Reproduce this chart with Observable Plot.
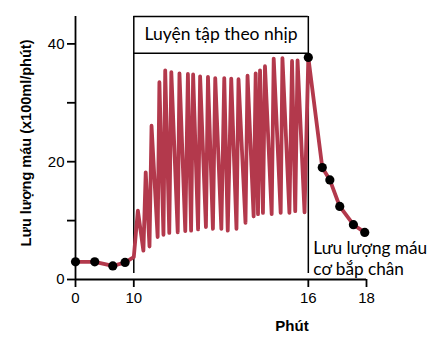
<!DOCTYPE html>
<html>
<head>
<meta charset="utf-8">
<script src="https://cdn.jsdelivr.net/npm/d3@7"></script>
<script src="https://cdn.jsdelivr.net/npm/@observablehq/plot@0.6"></script>
<style>
  html, body { margin: 0; padding: 0; background: #fff; }
</style>
</head>
<body>
<div id="chart"></div>
<script>
// ---- data ----
const restTimes = [0, 3.3, 6.4, 8.5];
const restFlow = [3.0, 3.0, 2.3, 2.9];
const exerciseTimes = [10.0, 10.14, 10.33, 10.41, 10.54, 10.61, 10.82, 10.88, 11.02, 11.08, 11.22, 11.29, 11.51, 11.57, 11.77, 11.86, 11.97, 12.04, 12.21, 12.28, 12.48, 12.55, 12.72, 12.80, 13.01, 13.11, 13.23, 13.35, 13.53, 13.60, 13.84, 13.91, 14.12, 14.19, 14.27, 14.34, 14.44, 14.51, 14.74, 14.81, 15.05, 15.11, 15.35, 15.44, 15.55, 15.63, 15.87];
const exerciseFlow = [3.8, 11.7, 4.9, 18.2, 5.6, 26.1, 7.2, 33.5, 7.6, 35.5, 7.9, 35.2, 8.0, 35.0, 8.2, 34.9, 8.3, 34.8, 8.5, 34.5, 8.9, 34.4, 8.6, 34.2, 8.6, 34.2, 8.3, 34.1, 8.6, 34.0, 9.6, 34.6, 10.7, 35.0, 11.1, 35.5, 11.3, 36.2, 11.1, 37.5, 11.3, 37.6, 11.3, 37.1, 11.6, 37.2, 11.4];
const recoveryTimes = [16, 16.48, 16.74, 17.08, 17.55, 17.94];
const recoveryFlow = [37.7, 19.0, 16.9, 12.4, 9.3, 8.0];

const xTicks = [0, 10, 16, 18];
const yTicks = [0, 10, 20, 30, 40];
const yLabelled = [0, 20, 40];
const exercise = [10, 16];          // exercise interval (min)
const boxY = [1, 38.4, 44.65];      // box: bottom of verticals, header bottom, top
const exerciseLabel = "Luyện tập theo nhịp";
const calfLabel = "Lưu lượng máu\ncơ bắp chân";
const yTitle = "Lưu lượng máu (x100ml/phút)";
const xTitle = "Phút";

// broken time axis: the resting part (0–10 min) is compressed
const restCompression = 0.2004;
const toU = t => t <= 10 ? t * restCompression : 10 * restCompression + (t - 10);

const zip = (ts, vs) => ts.map((t, i) => ({t, u: toU(t), v: vs[i]}));
const rest = zip(restTimes, restFlow);
const ex = zip(exerciseTimes, exerciseFlow);
const rec = zip(recoveryTimes, recoveryFlow);
const lineData = [...rest, ...ex, ...rec];
const dotData = [...rest, ...rec];

const tickU = xTicks.map(toU);
const tickLabel = new Map(tickU.map((u, i) => [u, String(xTicks[i])]));

const red = "#b3394c";
const noteFont = "Lato, 'Open Sans', sans-serif";

const chart = Plot.plot({
  width: 440,
  height: 348,
  marginLeft: 75,
  marginRight: 74,
  marginTop: 16,
  marginBottom: 69,
  style: {fontFamily: "'Liberation Sans', Arial, sans-serif", fontSize: "15px", background: "#fff", color: "#000"},
  x: {domain: [0, toU(18)]},
  y: {domain: [0, boxY[2]]},
  marks: [
    Plot.axisX({ticks: tickU, tickFormat: u => tickLabel.get(u), tickSize: 8, tickPadding: 5, fontSize: 15, strokeWidth: 1.8, label: null}),
    Plot.axisY({ticks: yTicks, tickFormat: d => yLabelled.includes(d) ? d : "", tickSize: 8, tickPadding: 3, fontSize: 15, strokeWidth: 1.8, label: null}),
    Plot.ruleY([0], {x1: 0, x2: toU(18), stroke: "#000", strokeWidth: 1.8}),
    Plot.ruleX([0], {y1: 0, y2: boxY[2], stroke: "#000", strokeWidth: 1.8}),
    // exercise box
    Plot.ruleX(exercise.map(toU), {y1: boxY[0], y2: boxY[2], stroke: "#000", strokeWidth: 1.5}),
    Plot.ruleY([boxY[1], boxY[2]], {x1: toU(exercise[0]), x2: toU(exercise[1]), stroke: "#000", strokeWidth: 1.5}),
    Plot.text([exerciseLabel], {x: (toU(exercise[0]) + toU(exercise[1])) / 2, frameAnchor: "top", dy: 18, lineAnchor: "middle", fontFamily: noteFont, fontSize: 17.5, fill: "#000"}),
    // data
    Plot.line(lineData, {x: "u", y: "v", stroke: red, strokeWidth: 3.8, strokeLinejoin: "round", strokeLinecap: "round"}),
    Plot.dot(dotData, {x: "u", y: "v", r: 4.6, fill: "#000", stroke: "none"}),
    // annotations
    Plot.text([calfLabel], {x: toU(exercise[1]), frameAnchor: "bottom", dx: 5, dy: -22, textAnchor: "start", lineAnchor: "middle", lineHeight: 1.25, fontFamily: noteFont, fontSize: 17.2, fill: "#000"}),
    Plot.text([yTitle], {frameAnchor: "left", dx: -49, dy: -5, rotate: -90, textAnchor: "middle", lineAnchor: "middle", fontWeight: "bold", fontSize: 14.5, fill: "#000"}),
    Plot.text([xTitle], {frameAnchor: "bottom", dx: 71, dy: 47, textAnchor: "middle", lineAnchor: "middle", fontWeight: "bold", fontSize: 15, fill: "#000"})
  ]
});
document.getElementById("chart").appendChild(chart);
</script>
</body>
</html>
